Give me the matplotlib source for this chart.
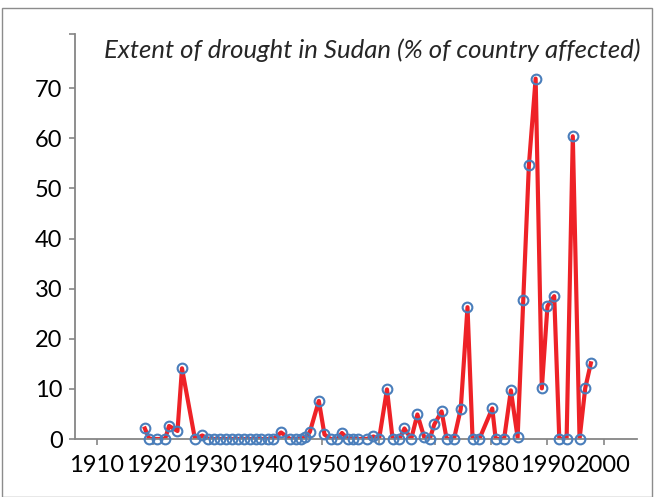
import matplotlib
matplotlib.use("Agg")
import matplotlib.pyplot as plt
from matplotlib.patches import Rectangle

# Data (year position, % of country affected)
years = [1918.5, 1919.3, 1920.7, 1922.1, 1922.8, 1924.3, 1925.1, 1927.4, 1928.7,
         1929.8, 1930.8, 1931.9, 1932.9, 1934.0, 1935.0, 1936.1, 1937.1, 1938.2,
         1939.2, 1940.3, 1941.3, 1942.7, 1944.3, 1945.3, 1946.3, 1947.0, 1947.8,
         1949.4, 1950.4, 1951.5, 1952.7, 1953.5, 1954.6, 1955.4, 1956.4, 1957.9,
         1959.1, 1960.1, 1961.5, 1962.5, 1963.7, 1964.6, 1965.8, 1966.9, 1968.1,
         1969.1, 1969.9, 1971.2, 1972.1, 1973.4, 1974.6, 1975.8, 1976.7, 1977.9,
         1980.2, 1980.8, 1982.3, 1983.5, 1984.7, 1985.7, 1986.7, 1987.9, 1989.0,
         1990.0, 1991.2, 1992.1, 1993.4, 1994.5, 1995.7, 1996.7, 1997.7]
extent = [2.1, 0.0, 0.0, 0.0, 2.6, 1.6, 14.1, 0.0, 0.7,
          0.0, 0.0, 0.0, 0.0, 0.0, 0.0, 0.0, 0.0, 0.0,
          0.0, 0.0, 0.0, 1.3, 0.0, 0.0, 0.0, 0.4, 1.4,
          7.6, 0.9, 0.0, 0.0, 1.2, 0.0, 0.0, 0.0, 0.0,
          0.5, 0.0, 9.9, 0.0, 0.0, 2.1, 0.0, 4.9, 0.4,
          0.0, 2.9, 5.5, 0.0, 0.0, 6.0, 26.3, 0.0, 0.0,
          6.1, 0.0, 0.0, 9.7, 0.3, 27.7, 54.6, 71.9, 10.1,
          26.5, 28.5, 0.0, 0.0, 60.4, 0.0, 10.1, 15.1]

x_ticks = [1910, 1920, 1930, 1940, 1950, 1960, 1970, 1980, 1990, 2000]
y_ticks = [0, 10, 20, 30, 40, 50, 60, 70]
title = "Extent of drought in Sudan (% of country affected)"

plt.rcParams['font.family'] = ['Lato', 'DejaVu Sans']

fig = plt.figure(figsize=(6.55, 4.97), dpi=100)
fig.patches.append(Rectangle((2/655, 0.0), 650/655, 1 - 8/497, transform=fig.transFigure,
                             fill=False, edgecolor='#8c8c8c', linewidth=1.0))
ax = fig.add_axes([75/655, 58/497, 562/655, 405/497])

ax.plot(years, extent, color='#ee2227', linewidth=3.0, solid_joinstyle='round', zorder=2)
ax.plot(years, extent, linestyle='none', marker='o', markersize=7,
        markerfacecolor='none', markeredgecolor='#4a7ebb', markeredgewidth=1.5, zorder=3,
        clip_on=False)

ax.set_xlim(1906.1, 2005.9)
ax.set_ylim(0, 80.8)
ax.set_xticks(x_ticks)
ax.set_xticklabels([str(t) for t in x_ticks])
ax.set_yticks(y_ticks + [80.8])
ax.set_yticklabels([str(t) for t in y_ticks] + [''])

for s in ['top', 'right']:
    ax.spines[s].set_visible(False)
for s in ['left', 'bottom']:
    ax.spines[s].set_color('#868686')
    ax.spines[s].set_linewidth(1.3)
ax.tick_params(axis='both', colors='#868686', length=4, width=1.2, labelcolor='black',
               labelsize=17)
ax.tick_params(axis='y', pad=5)
ax.tick_params(axis='x', pad=7.5)

ax.text(1.006, 0.96, title, transform=ax.transAxes, ha='right', va='center',
        fontsize=18.5, style='italic', color='#262626')

fig.savefig('out.png', dpi=100)
